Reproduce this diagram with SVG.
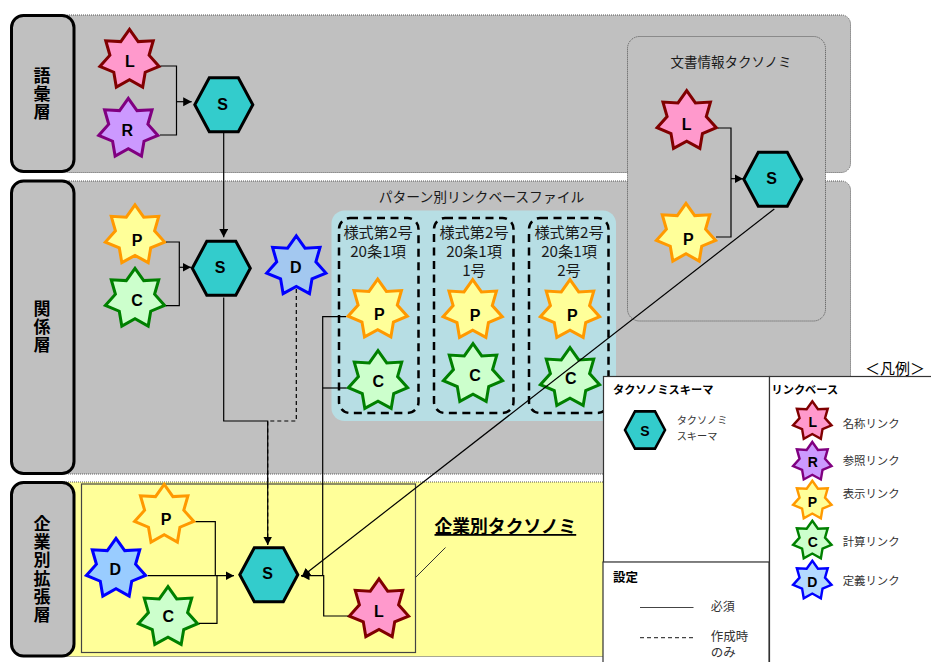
<svg xmlns="http://www.w3.org/2000/svg" width="931" height="662" viewBox="0 0 931 662">
<style>
text{font-family:"Noto Sans CJK JP","Liberation Sans",sans-serif;fill:#000}
.panel{fill:#C0C0C0;stroke:#555;stroke-width:1;stroke-dasharray:1 1}
.yellow{fill:#FFFF99}
.lab{fill:#C0C0C0;stroke:#000;stroke-width:3}
.v{font-size:17px;font-weight:700;writing-mode:vertical-rl;letter-spacing:1.200px}
.t{font-size:13.800px;fill:#1a1a1a;text-anchor:middle}
.f{font-size:15.200px}
.dash{fill:none;stroke:#000;stroke-width:2.500;stroke-dasharray:8 5.500}
.n{font-family:"Liberation Sans",sans-serif;font-size:16px;font-weight:700;text-anchor:middle}
.s{stroke-width:3;stroke-linejoin:miter;stroke-miterlimit:6}
.lg{stroke-width:3.700}
.L{fill:#FF99CC;stroke:#800000}.R{fill:#CC99FF;stroke:#800080}.P{fill:#FFFF99;stroke:#FF9900}
.C{fill:#CCFFCC;stroke:#008000}.D{fill:#99CCFF;stroke:#0000FF}
.H{fill:#33CCCC;stroke:#000;stroke-width:3}
.c{fill:none;stroke:#000;stroke-width:1.200}
.box{fill:#fff;stroke:#333;stroke-width:1.200}
.h{font-size:11.200px;font-weight:700}
.l{font-size:11.400px;fill:#333}
</style>
<defs>
<polygon id="star" points="0,-30.4 8.71,-18.1 23.75,-18.94 19.58,-4.47 29.62,6.76 15.71,12.52 13.18,27.38 0,20.09 -13.18,27.38 -15.71,12.52 -29.62,6.76 -19.58,-4.47 -23.75,-18.94 -8.71,-18.1"/>
<polygon id="hex" points="-29,0 -14.5,-27 14.5,-27 29,0 14.5,27 -14.5,27"/>
<marker id="arr" markerUnits="userSpaceOnUse" markerWidth="10" markerHeight="10" refX="8.500" refY="4.500" orient="auto"><path d="M0 0L8.500 4.500L0 9z" fill="#000"/></marker>
</defs>

<g id="layer-vocab"><rect class="panel" x="60" y="15" width="790.500" height="157.500" rx="9"/><rect class="lab" x="11.500" y="15.500" width="62.500" height="156" rx="12"/><text class="v" x="42" y="67">語彙層</text></g>
<g id="layer-relation"><rect class="panel" x="60" y="181" width="790.500" height="293" rx="9"/><rect class="lab" x="11.500" y="181" width="62.500" height="292.500" rx="12"/><text class="v" x="42" y="300">関係層</text></g>
<g id="layer-company"><rect class="panel yellow" x="60" y="482" width="790.500" height="174.500"/><rect class="lab" x="11.500" y="482.500" width="62.500" height="173.500" rx="12"/><text class="v" x="42" y="515">企業別拡張層</text></g>

<g id="doc-taxonomy"><rect class="panel" x="627.500" y="36.500" width="198" height="284.500" rx="12"/><text class="t" x="731" y="66.500" style="font-size:13.500px">文書情報タクソノミ</text></g>
<g id="pattern-files"><text class="t" x="481.500" y="201.500">パターン別リンクベースファイル</text><rect x="331.500" y="210.500" width="284.500" height="210.500" rx="13" fill="#B7DEE4"/></g>
<g id="form-1"><rect class="dash" x="339" y="218" width="79.500" height="195" rx="11"/><text class="t f" x="378" y="238">様式第2号</text><text class="t f" x="378" y="257">20条1項</text></g>
<g id="form-2"><rect class="dash" x="434" y="218" width="79.500" height="195" rx="11"/><text class="t f" x="474" y="238">様式第2号</text><text class="t f" x="474" y="257">20条1項</text><text class="t f" x="474" y="275.500">1号</text></g>
<g id="form-3"><rect class="dash" x="529" y="218" width="79.500" height="195" rx="11"/><text class="t f" x="569" y="238">様式第2号</text><text class="t f" x="569" y="257">20条1項</text><text class="t f" x="569" y="275.500">2号</text></g>
<g id="company-frame"><rect x="81.500" y="484" width="334" height="168.500" fill="none" stroke="#444" stroke-width="1.200"/><path d="M415.500 577.500L445.500 547.500" fill="none" stroke="#333" stroke-width="1"/><text x="434.500" y="533" style="font-size:17.800px;font-weight:700;text-decoration:underline">企業別タクソノミ</text></g>

<g id="v-L"><use href="#star" class="s L" x="129.500" y="59.700"/><text class="n" x="130" y="67.200">L</text></g>
<g id="v-R"><use href="#star" class="s R" x="128.300" y="128.700"/><text class="n" x="127.300" y="135.500">R</text></g>
<g id="v-S"><use href="#hex" class="H" x="223.800" y="104.700"/><text class="n" x="222.700" y="109.500">S</text></g>
<g id="r-P"><use href="#star" class="s P" x="135" y="235.300"/><text class="n" x="137" y="246.200">P</text></g>
<g id="r-C"><use href="#star" class="s C" x="135" y="298.700"/><text class="n" x="137" y="306.200">C</text></g>
<g id="r-S"><use href="#hex" class="H" x="221.300" y="268.300"/><text class="n" x="220" y="272.800">S</text></g>
<g id="r-D"><use href="#star" class="s D" style="fill:#A3C8F0" x="296.300" y="266.300"/><text class="n" x="295.700" y="273.200">D</text></g>
<g id="f1-P"><use href="#star" class="s P" x="377.700" y="309.500"/><text class="n" x="379.300" y="319.800">P</text></g>
<g id="f1-C"><use href="#star" class="s C" x="378" y="381"/><text class="n" x="378.300" y="386.500">C</text></g>
<g id="f2-P"><use href="#star" class="s P" x="472.700" y="310"/><text class="n" x="475" y="320.500">P</text></g>
<g id="f2-C"><use href="#star" class="s C" x="473" y="374"/><text class="n" x="475" y="380.500">C</text></g>
<g id="f3-P"><use href="#star" class="s P" x="570" y="310"/><text class="n" x="572.300" y="320.500">P</text></g>
<g id="f3-C"><use href="#star" class="s C" x="570" y="378"/><text class="n" x="570.700" y="383.800">C</text></g>
<g id="d-L"><use href="#star" class="s L" x="686.700" y="121"/><text class="n" x="686.700" y="129.500">L</text></g>
<g id="d-P"><use href="#star" class="s P" x="686" y="233.700"/><text class="n" x="688.300" y="244.500">P</text></g>
<g id="d-S"><use href="#hex" class="H" x="772.800" y="179.200"/><text class="n" x="771.700" y="183.800">S</text></g>
<g id="c-P"><use href="#star" class="s" style="fill:#FFFF99;stroke:#FF9900" x="164.200" y="514.700"/><text class="n" x="166" y="524.800">P</text></g>
<g id="c-D"><use href="#star" class="s D" x="116" y="568.700"/><text class="n" x="115.300" y="574.800">D</text></g>
<g id="c-C"><use href="#star" class="s C" x="168" y="617"/><text class="n" x="168.300" y="622.200">C</text></g>
<g id="c-S"><use href="#hex" class="H" x="268.800" y="574.700"/><text class="n" x="267.700" y="578.800">S</text></g>
<g id="c-L"><use href="#star" class="s L" x="379" y="609.300"/><text class="n" x="379" y="617.200">L</text></g>

<g id="connectors">
<path class="c" d="M160.500 66H176.500V135H160"/><path class="c" d="M176.500 101.700H191.700" marker-end="url(#arr)"/>
<path class="c" d="M223.700 133V237.300" marker-end="url(#arr)"/>
<path class="c" d="M166 242H179.300V305.700H166"/><path class="c" d="M179.300 267.300H191" marker-end="url(#arr)"/>
<path class="c" d="M223.700 297.500V421H267.700V545" marker-end="url(#arr)"/>
<path class="c" d="M296.300 289V421H267.700V545" stroke-dasharray="4 3"/>
<path class="c" d="M346 316.700H322.700V575.700"/><path class="c" d="M346.500 388H322.700"/>
<path class="c" d="M348.300 616H323.700V575.700H301" marker-end="url(#arr)"/>
<path class="c" d="M195.700 521.700H215.300V575.700"/><path class="c" d="M199 623.300H217V575.700"/><path class="c" d="M148 575.700H234" marker-end="url(#arr)"/>
<path class="c" d="M718 128H731V237H716"/><path class="c" d="M731 178.700H743" marker-end="url(#arr)"/>
<path class="c" d="M774.300 209L301.700 576.700" marker-end="url(#arr)"/>
</g>

<g id="legend">
<text x="865" y="374" style="font-size:15px">＜凡例＞</text>
<rect class="box" x="603.500" y="376.500" width="166" height="186"/>
<rect class="box" x="769.500" y="376.500" width="170" height="300"/>
<rect class="box" x="603" y="562" width="166" height="110"/>
<text class="h" x="613" y="394">タクソノミスキーマ</text>
<text class="h" x="771.500" y="394">リンクベース</text>
<text class="h" x="613" y="581.500" style="font-size:12.500px">設定</text>
<text class="l" x="676.700" y="424" style="font-size:10.200px">タクソノミ</text>
<text class="l" x="676.700" y="440" style="font-size:10.200px">スキーマ</text>
<text class="l" x="842.700" y="427.500">名称リンク</text>
<text class="l" x="842.700" y="465">参照リンク</text>
<text class="l" x="842.700" y="498">表示リンク</text>
<text class="l" x="842.700" y="545.700">計算リンク</text>
<text class="l" x="842.700" y="584.700">定義リンク</text>
<path d="M640 607.500H693.500" stroke="#444" stroke-width="1.200"/>
<path d="M640 637.700H693.500" stroke="#444" stroke-width="1.200" stroke-dasharray="4 3"/>
<text class="l" x="710.700" y="611" style="font-size:12px">必須</text>
<text class="l" x="710.700" y="641" style="font-size:12.500px">作成時</text>
<text class="l" x="710.700" y="657" style="font-size:12.500px">のみ</text>
</g>
<g id="lg-S" transform="translate(645 430) scale(.69)"><use href="#hex" class="H" style="stroke-width:3.700"/></g><text class="n" x="645" y="436" style="font-size:14px">S</text>
<g id="lg-L" transform="translate(812.300 421) scale(.65)"><use href="#star" class="s L lg"/></g><text class="n" x="812.700" y="427" style="font-size:14px">L</text>
<g id="lg-R" transform="translate(812.300 461.700) scale(.65)"><use href="#star" class="s R lg"/></g><text class="n" x="812.700" y="467" style="font-size:14px">R</text>
<g id="lg-P" transform="translate(812.300 500.500) scale(.65)"><use href="#star" class="s P lg"/></g><text class="n" x="812.300" y="507" style="font-size:14px">P</text>
<g id="lg-C" transform="translate(812.300 540.500) scale(.65)"><use href="#star" class="s C lg"/></g><text class="n" x="812.700" y="547" style="font-size:14px">C</text>
<g id="lg-D" transform="translate(812.300 580.500) scale(.65)"><use href="#star" class="s D lg" style="fill:#B3D9FF"/></g><text class="n" x="812.300" y="586.500" style="font-size:14px">D</text>
</svg>
